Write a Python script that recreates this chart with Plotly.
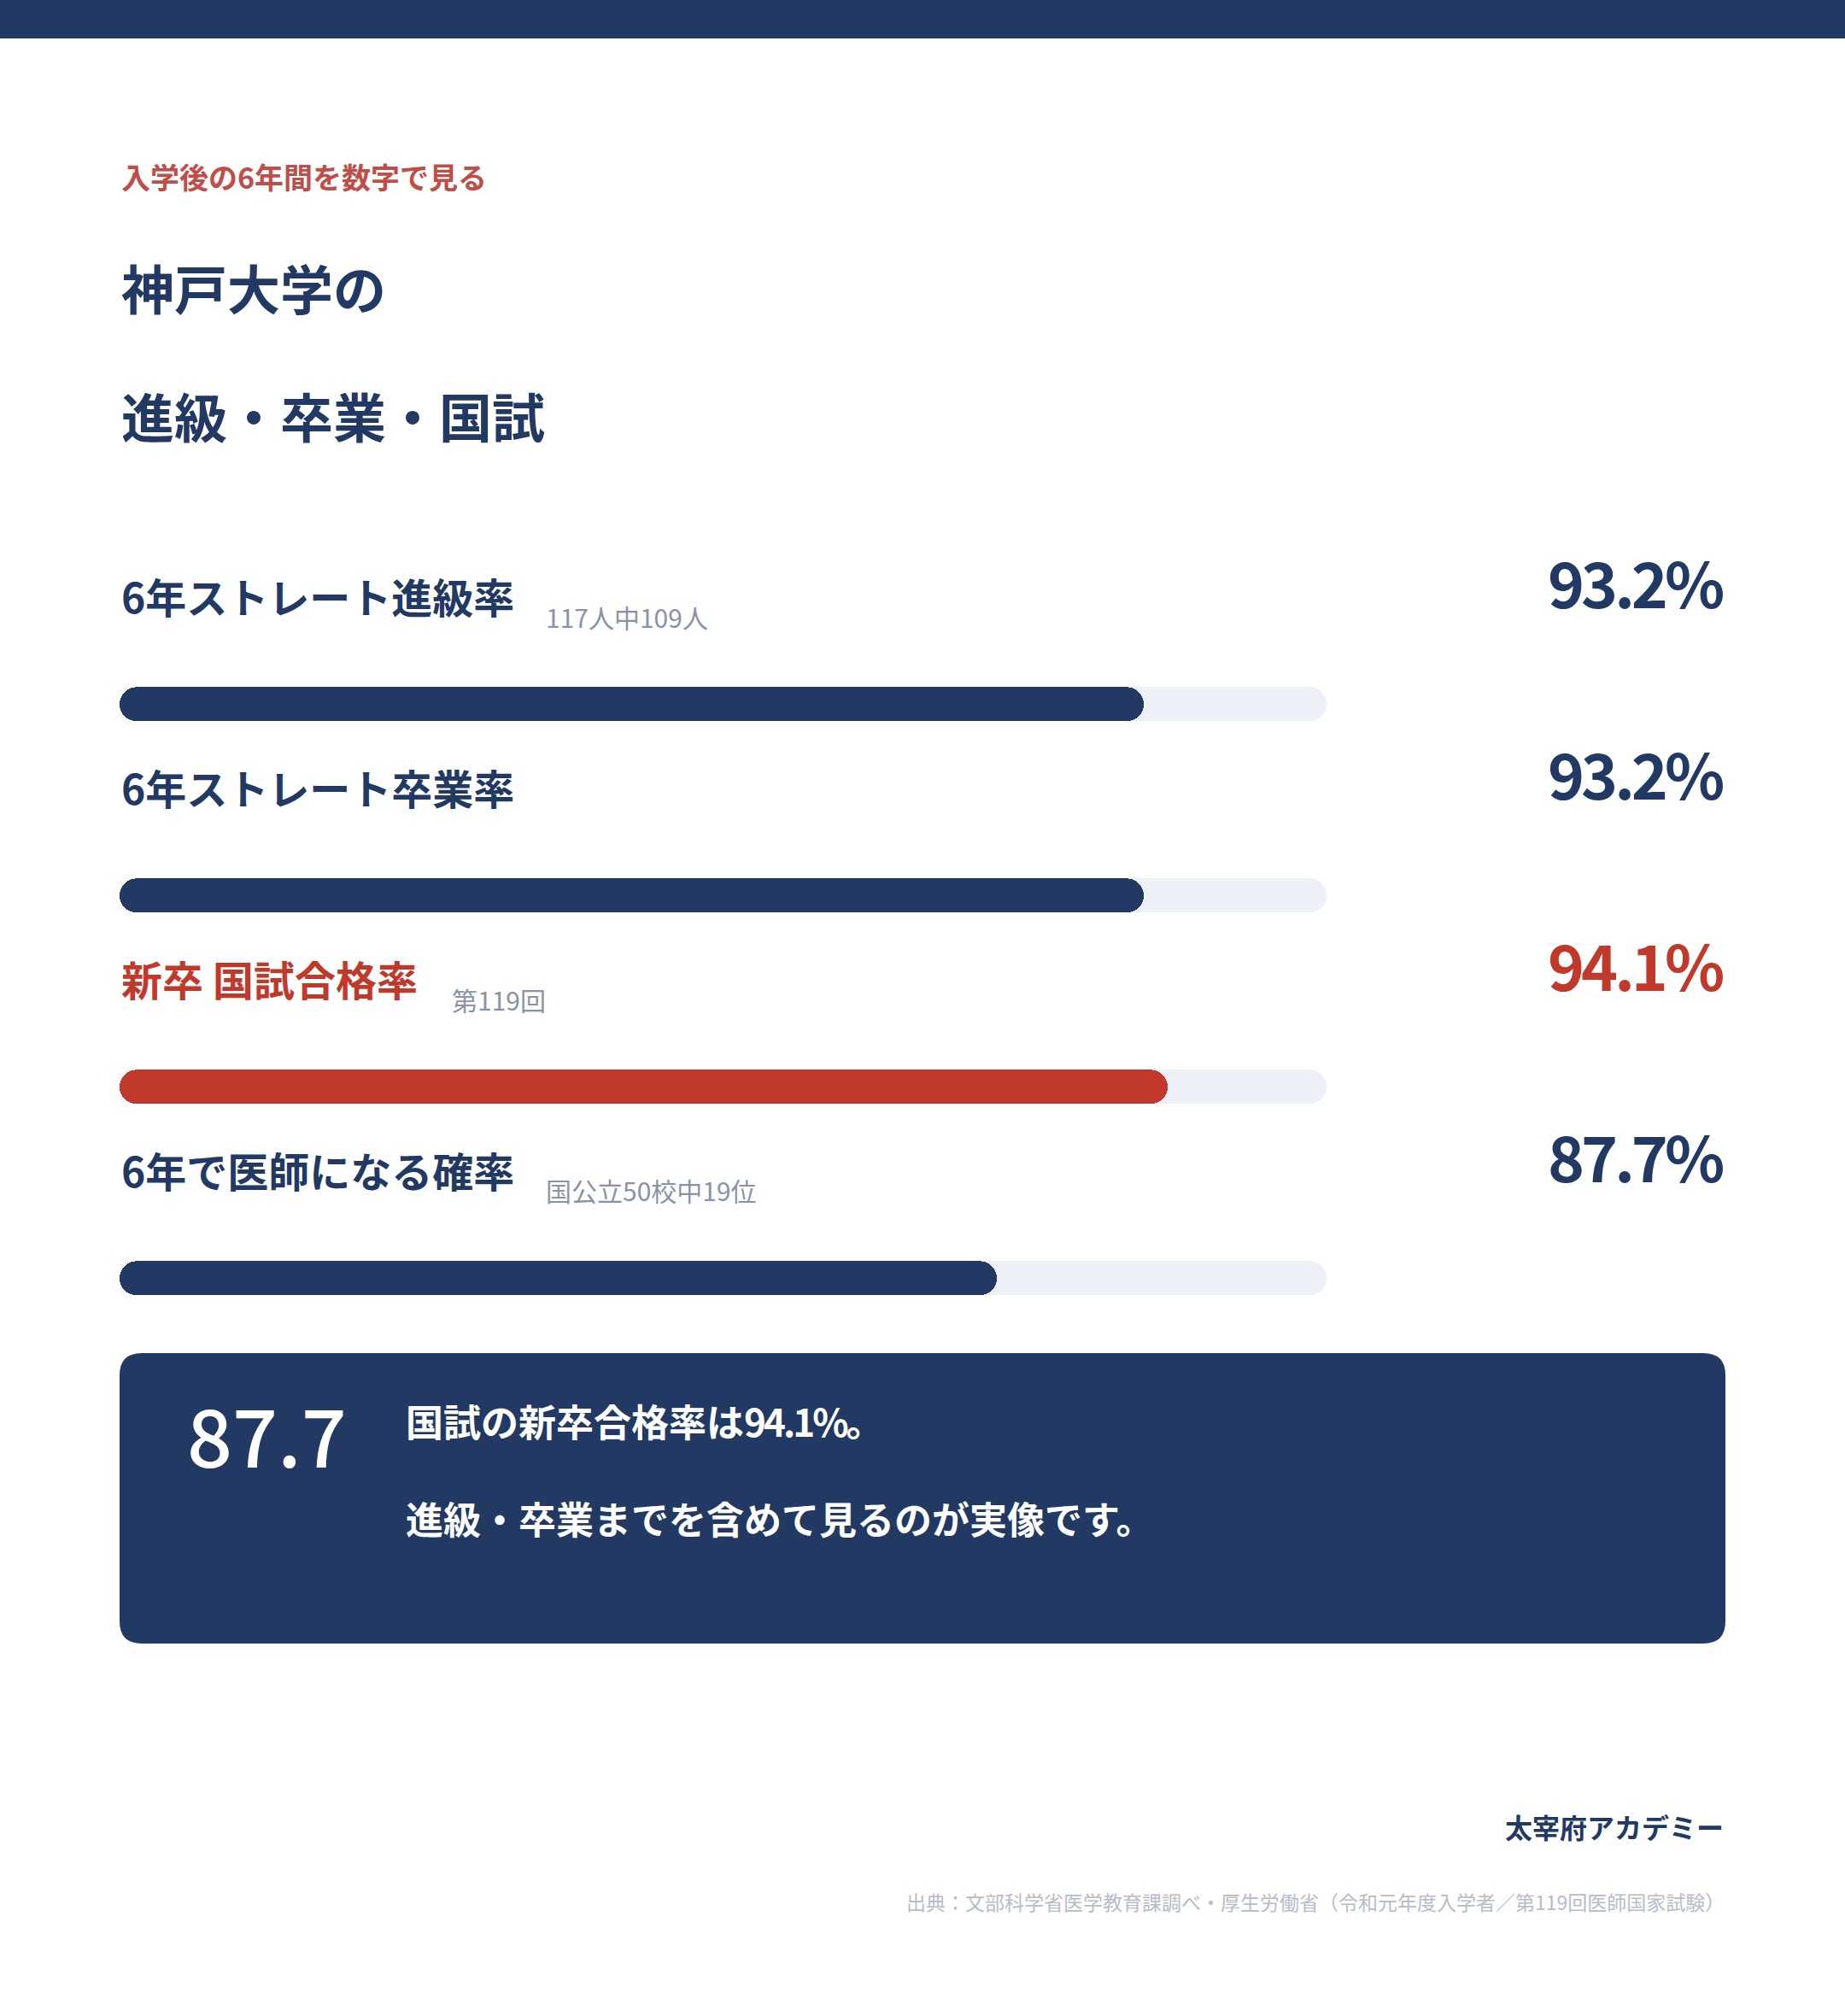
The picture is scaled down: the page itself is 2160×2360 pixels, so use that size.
import plotly.graph_objects as go

# ---------------- data ----------------
categories = ["6年ストレート進級率", "6年ストレート卒業率", "新卒 国試合格率", "6年で医師になる確率"]
values = [93.2, 93.2, 94.1, 87.7]
notes = ["117人中109人", "", "第119回", "国公立50校中19位"]
highlight = [False, False, True, False]

kicker = "入学後の6年間を数字で見る"
title_lines = ["神戸大学の", "進級・卒業・国試"]
callout_value = "87.7"
callout_line1 = ("国試の新卒合格率は", "94.1%", "。")
callout_line2 = "進級・卒業までを含めて見るのが実像です。"
brand = "太宰府アカデミー"
source_text = "出典：文部科学省医学教育課調べ・厚生労働省（令和元年度入学者／第119回医師国家試験）"

AXIS_MIN, AXIS_MAX = 55, 100

# ---------------- style / layout ----------------
W, H = 2160, 2360
FONT = "Noto Sans CJK JP"
NAVY = "#213963"
RED = "#c0392b"
KICKER_RED = "#c14d49"
TRACK = "#edf0f7"
GRAY = "#8a93a5"
LIGHT = "#b5bcc8"
WHITE = "#ffffff"

PLOT_X0, PLOT_X1 = 140, 1552.7
ROW0_CENTER, ROW_STEP, BAR_THICK = 824.3, 224, 40.7


def px(x):
    return x / W


def py(y):
    return 1 - y / H


n = len(categories)
ys = list(range(n))
fill_colors = [RED if h else NAVY for h in highlight]
bar_w = BAR_THICK / ROW_STEP

fig = go.Figure()
fig.add_trace(go.Bar(
    y=ys, x=[AXIS_MAX - AXIS_MIN] * n, base=[AXIS_MIN] * n,
    orientation="h", width=bar_w, marker=dict(color=TRACK, cornerradius="50%", line_width=0),
    hoverinfo="skip", showlegend=False))
fig.add_trace(go.Bar(
    y=ys, x=[v - AXIS_MIN for v in values], base=[AXIS_MIN] * n,
    orientation="h", width=bar_w, marker=dict(color=fill_colors, cornerradius="50%", line_width=0),
    hoverinfo="skip", showlegend=False))

y_top_px = ROW0_CENTER - ROW_STEP / 2
y_bot_px = ROW0_CENTER + ROW_STEP * (n - 0.5)

annotations = []


def text(x, y, s, size, color, weight="normal", anchor="left"):
    annotations.append(dict(
        x=px(x), y=py(y - 0.06 * size), xref="paper", yref="paper", text=s, showarrow=False,
        xanchor=anchor, yanchor="middle", align=anchor,
        font=dict(family=FONT, size=size, color=color, weight=weight)))


def tight(s, spacing):
    return f'<span style="letter-spacing:{spacing}px">{s}</span>'


text(140, 209, kicker, 34, KICKER_RED, "bold")
text(140, 340, title_lines[0], 62, NAVY, "bold")
text(140, 490, title_lines[1], 62, NAVY, "bold")

note_x = [637, None, 527, 637]
for i in range(n):
    c = ROW0_CENTER + i * ROW_STEP
    col = RED if highlight[i] else NAVY
    text(140, c - 124, categories[i], 48, col, "bold")
    if notes[i]:
        text(note_x[i], c - 101, notes[i], 30, GRAY)
    text(2019, c - 140, tight(f"{values[i]:.1f}%", -4), 73, col, "bold", anchor="right")

# callout box
bx0, by0, bx1, by1, r = 140, 1584, 2020, 1924, 26


def rounded_path(x0, y0, x1, y1, r):
    pts = [
        f"M {px(x0 + r)} {py(y0)}",
        f"L {px(x1 - r)} {py(y0)}",
        f"Q {px(x1)} {py(y0)} {px(x1)} {py(y0 + r)}",
        f"L {px(x1)} {py(y1 - r)}",
        f"Q {px(x1)} {py(y1)} {px(x1 - r)} {py(y1)}",
        f"L {px(x0 + r)} {py(y1)}",
        f"Q {px(x0)} {py(y1)} {px(x0)} {py(y1 - r)}",
        f"L {px(x0)} {py(y0 + r)}",
        f"Q {px(x0)} {py(y0)} {px(x0 + r)} {py(y0)}",
        "Z",
    ]
    return " ".join(pts)


shapes = [
    dict(type="rect", xref="paper", yref="paper", x0=0, x1=1, y0=py(45), y1=1,
         fillcolor=NAVY, line_width=0, layer="below"),
    dict(type="path", xref="paper", yref="paper", path=rounded_path(bx0, by0, bx1, by1, r),
         fillcolor=NAVY, line_width=0, layer="below"),
]

text(217, 1683.5, callout_value, 93, WHITE, 500)
text(473, 1666, callout_line1[0] + tight(callout_line1[1], -3) + callout_line1[2], 44, WHITE, "bold")
text(473, 1780, callout_line2, 44, WHITE, "bold")

text(2020, 2140, brand, 32, NAVY, "bold", anchor="right")
text(2021, 2227, source_text, 23, LIGHT, anchor="right")

fig.update_layout(
    width=W, height=H, margin=dict(l=0, r=0, t=0, b=0),
    paper_bgcolor="white", plot_bgcolor="rgba(0,0,0,0)",
    barmode="overlay", bargap=0,
    xaxis=dict(range=[AXIS_MIN, AXIS_MAX], domain=[px(PLOT_X0), px(PLOT_X1)],
               visible=False, fixedrange=True),
    yaxis=dict(range=[n - 0.5, -0.5], domain=[py(y_bot_px), py(y_top_px)],
               visible=False, fixedrange=True),
    annotations=annotations, shapes=shapes, showlegend=False,
)

fig.write_html("out.html", config={"displayModeBar": False},
               post_script="document.body.style.margin='0';document.body.style.overflow='hidden';")
